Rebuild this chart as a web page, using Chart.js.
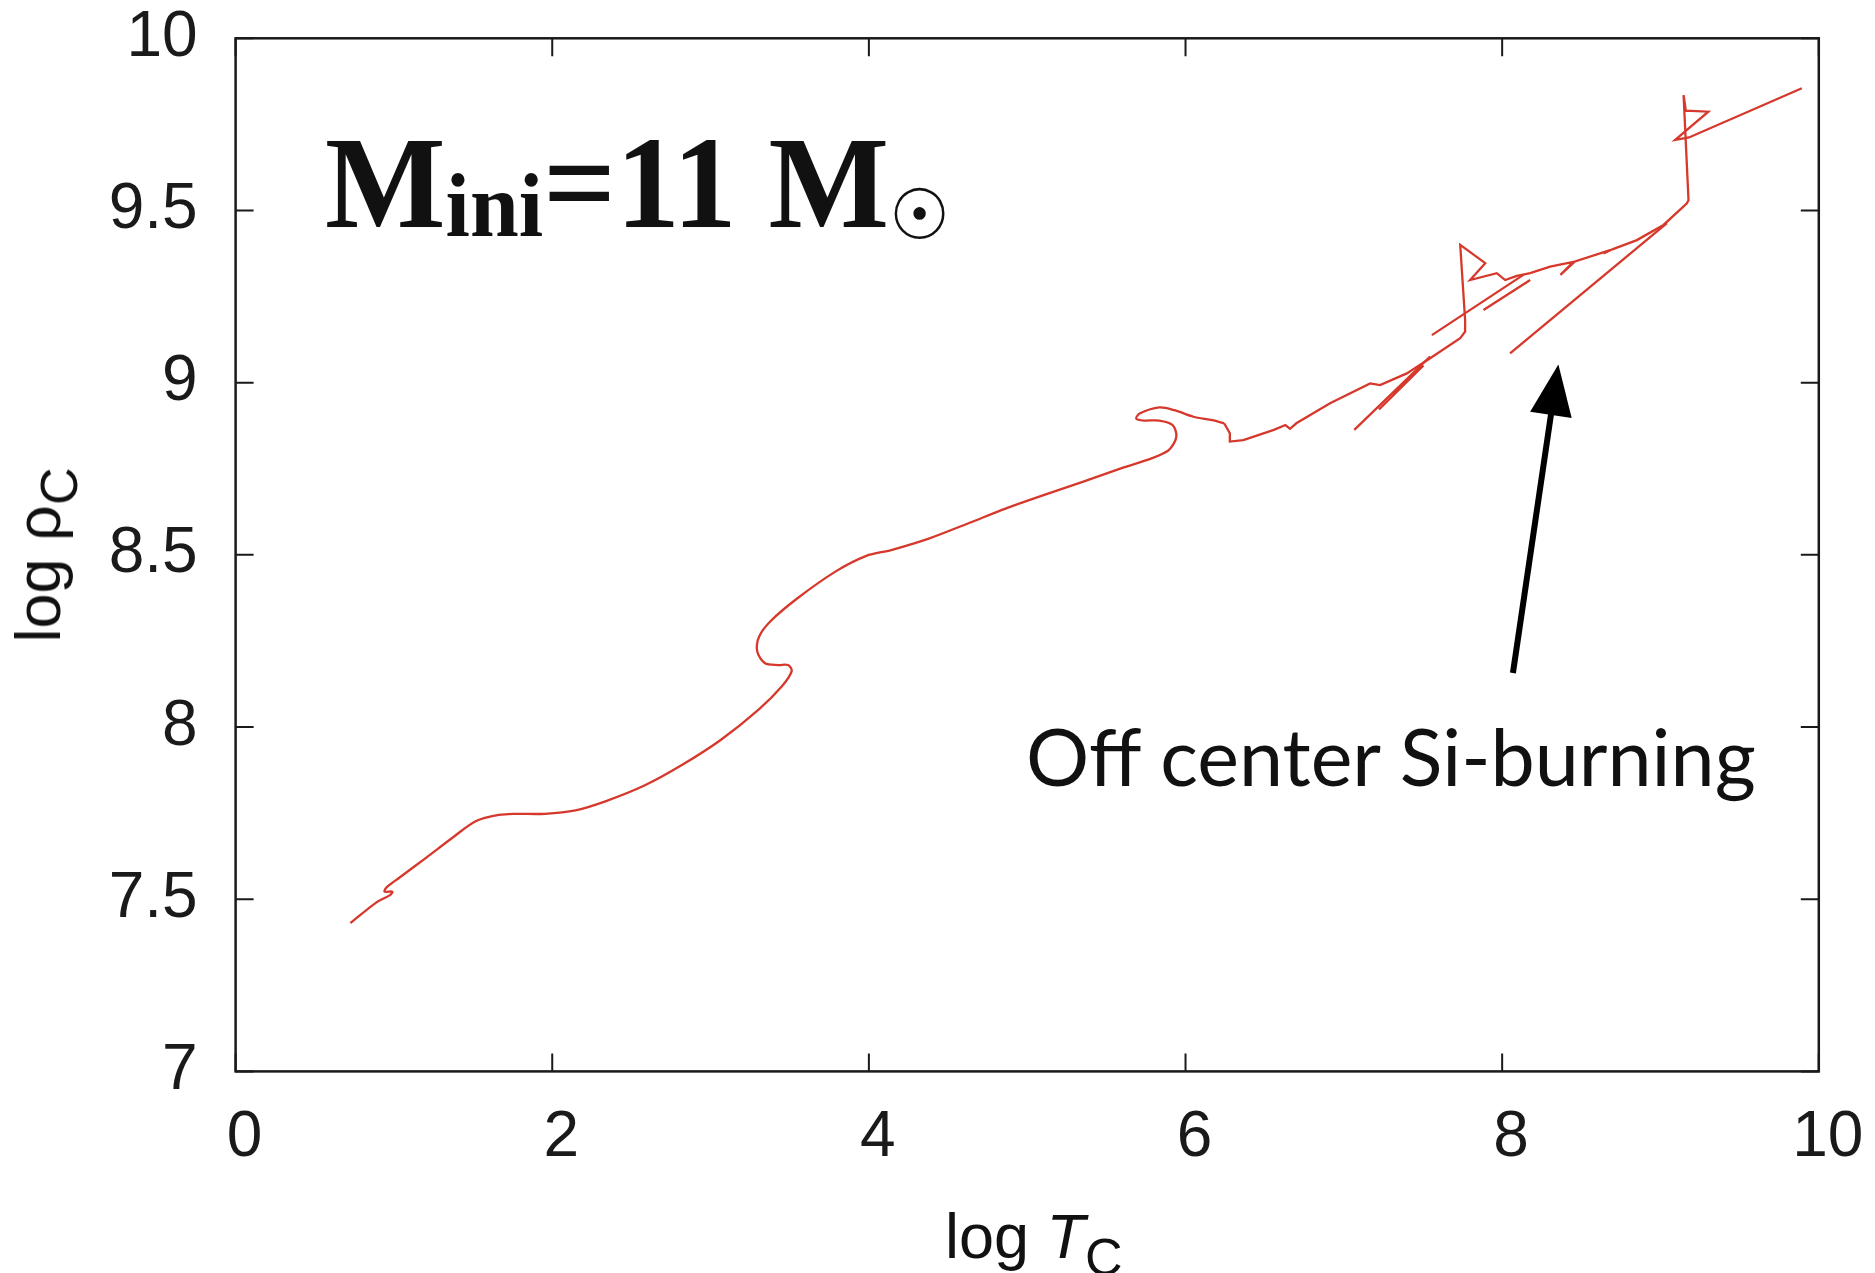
<!DOCTYPE html>
<html>
<head>
<meta charset="utf-8">
<script src="https://cdn.jsdelivr.net/npm/chart.js@4.4.0/dist/chart.umd.min.js"></script>
<style>
  body { margin: 0; background: #fff; }
  #wrap { position: relative; width: 1875px; height: 1273px; overflow: hidden; }
  #plot { position: absolute; left: 0; top: 0; }
  .txt { position: absolute; white-space: nowrap; color: #111; line-height: 1; }
  #title { left: 325px; top: 107px; font: bold 131px "Liberation Serif", serif; transform: scaleX(0.975); transform-origin: left center; }
  #title .sub { font-size: 90px; vertical-align: -9px; line-height: 0; }
  #title .sun { font-family: "DejaVu Sans"; font-weight: bold; font-size: 70px; vertical-align: -12px; line-height: 0; }
  #note { left: 1026px; top: 708px; font: 79px Lato, sans-serif; }
  #xlab { left: 945px; top: 1200px; font: 63px "Liberation Sans", sans-serif; }
  #ylab { left: 38px; top: 555px; font: 63px "Liberation Sans", sans-serif; transform: translate(-50%, -50%) rotate(-90deg); }
  .ax sub { font-size: 52px; vertical-align: -17px; line-height: 0; }
</style>
</head>
<body>
<div id="wrap">
  <canvas id="plot" width="1875" height="1273"></canvas>
  <div id="title" class="txt">M<span class="sub">ini</span>=11 M<span class="sun">☉</span></div>
  <div id="note" class="txt">Off center Si-burning</div>
  <div id="xlab" class="txt ax">log <i>T</i><sub>C</sub></div>
  <div id="ylab" class="txt ax">log ρ<sub>C</sub></div>
</div>
<script>
// track of the centre: x = log T_C, y = log rho_C
var smoothT = [0.725, 0.890, 0.975, 0.990, 0.940, 0.955, 1.036, 1.205, 1.374, 1.519, 1.664, 1.760, 1.954, 2.147, 2.340, 2.582, 2.824, 3.066, 3.307, 3.452, 3.513, 3.489, 3.428, 3.344, 3.295, 3.307, 3.380, 3.549, 3.791, 3.984, 4.141, 4.383, 4.625, 4.867, 5.108, 5.350, 5.592, 5.785, 5.894, 5.942, 5.918, 5.834, 5.737, 5.688, 5.713, 5.834, 5.930, 6.050, 6.171, 6.244];
var smoothRho = [7.431, 7.491, 7.512, 7.522, 7.522, 7.535, 7.563, 7.621, 7.680, 7.727, 7.745, 7.748, 7.748, 7.758, 7.785, 7.830, 7.891, 7.963, 8.052, 8.119, 8.163, 8.180, 8.180, 8.185, 8.219, 8.263, 8.308, 8.374, 8.452, 8.497, 8.514, 8.548, 8.591, 8.635, 8.674, 8.712, 8.751, 8.780, 8.804, 8.843, 8.877, 8.890, 8.890, 8.896, 8.911, 8.928, 8.920, 8.901, 8.891, 8.882];

var lateT = [6.244, 6.280, 6.280, 6.365, 6.558, 6.631, 6.660, 6.700, 6.913, 7.166, 7.229, 7.398, 7.545, 7.735, 7.766, 7.766, 7.735, 7.893, 7.798, 7.966, 8.019, 8.093, 8.177, 8.303, 8.450, 8.368, 8.460, 8.682, 8.640, 8.700, 8.851, 9.019, 9.167, 9.177, 9.146, 9.160, 9.302, 9.093, 9.180, 9.893];
var lateRho = [8.882, 8.853, 8.829, 8.833, 8.863, 8.877, 8.866, 8.882, 8.940, 8.998, 8.993, 9.027, 9.071, 9.129, 9.148, 9.182, 9.400, 9.347, 9.298, 9.318, 9.298, 9.310, 9.318, 9.337, 9.351, 9.313, 9.352, 9.385, 9.375, 9.388, 9.414, 9.458, 9.521, 9.530, 9.835, 9.790, 9.787, 9.705, 9.712, 9.855];

// loose straight pieces (null = break)
var fragT = [7.066, 7.545, null, 7.222, 7.503, null, 7.556, 8.134, null, 7.882, 8.177, null, 8.050, 9.041];
var fragRho = [8.863, 9.076, null, 8.922, 9.050, null, 9.138, 9.313, null, 9.211, 9.298, null, 9.085, 9.463];

var xTicks = [0, 2, 4, 6, 8, 10];
var yTicks = [7, 7.5, 8, 8.5, 9, 9.5, 10];

// arrow pointing at the Si-burning branch (data units)
var arrowTail = [8.068, 8.157];
var arrowTip = [8.355, 9.053];

function pts(xs, ys) {
    var out = [];
    for (var i = 0; i < xs.length; i++) out.push({ x: xs[i], y: ys[i] });
    return out;
}

var red = 'rgb(214,56,44)';

var frame = {
    id: 'frame',
    afterDatasetsDraw: function (chart) {
        var c = chart.ctx, a = chart.chartArea;
        var xs = chart.scales.x, ys = chart.scales.y;
        c.save();
        c.strokeStyle = '#1a1a1a';
        c.lineWidth = 2;
        c.beginPath();
        xTicks.forEach(function (v) {
            var p = xs.getPixelForValue(v);
            c.moveTo(p, a.bottom); c.lineTo(p, a.bottom - 18);
            c.moveTo(p, a.top); c.lineTo(p, a.top + 18);
        });
        yTicks.forEach(function (v) {
            var p = ys.getPixelForValue(v);
            c.moveTo(a.left, p); c.lineTo(a.left + 18, p);
            c.moveTo(a.right, p); c.lineTo(a.right - 18, p);
        });
        c.stroke();
        c.lineWidth = 2.5;
        c.strokeRect(a.left, a.top, a.right - a.left, a.bottom - a.top);

        // arrow
        var x0 = xs.getPixelForValue(arrowTail[0]), y0 = ys.getPixelForValue(arrowTail[1]);
        var x1 = xs.getPixelForValue(arrowTip[0]), y1 = ys.getPixelForValue(arrowTip[1]);
        var ang = Math.atan2(y1 - y0, x1 - x0);
        var hl = 51, hw = 21;
        var bx = x1 - hl * Math.cos(ang), by = y1 - hl * Math.sin(ang);
        c.strokeStyle = '#000';
        c.fillStyle = '#000';
        c.lineWidth = 6;
        c.beginPath();
        c.moveTo(x0, y0); c.lineTo(bx + 4 * Math.cos(ang), by + 4 * Math.sin(ang));
        c.stroke();
        c.beginPath();
        c.moveTo(x1, y1);
        c.lineTo(bx + hw * Math.sin(ang), by - hw * Math.cos(ang));
        c.lineTo(bx - hw * Math.sin(ang), by + hw * Math.cos(ang));
        c.closePath();
        c.fill();
        c.restore();
    }
};

var ctx = document.getElementById('plot').getContext('2d');
var chart = new Chart(ctx, {
    type: 'scatter',
    data: {
        datasets: [
            { data: pts(smoothT, smoothRho), showLine: true, tension: 0.3, borderColor: red, borderWidth: 2.3, pointRadius: 0 },
            { data: pts(lateT, lateRho), showLine: true, tension: 0, borderColor: red, borderWidth: 2.3, pointRadius: 0 },
            { data: pts(fragT, fragRho), showLine: true, tension: 0, spanGaps: false, borderColor: red, borderWidth: 2.3, pointRadius: 0 }
        ]
    },
    options: {
        responsive: false,
        animation: false,
        devicePixelRatio: 1,
        layout: { padding: { left: 0, top: 38.3, right: 56.2, bottom: 0 } },
        plugins: { legend: { display: false }, tooltip: { enabled: false } },
        scales: {
            x: {
                type: 'linear', min: 0, max: 10,
                afterBuildTicks: function (s) { s.ticks = xTicks.map(function (v) { return { value: v }; }); },
                afterFit: function (s) { s.height = 201.6; s.paddingLeft = 0; s.paddingRight = 0; },
                grid: { display: false, drawTicks: false },
                border: { display: false },
                ticks: { color: '#1a1a1a', padding: 29, labelOffset: 9, maxRotation: 0, font: { family: 'Liberation Sans', size: 64 }, callback: function (v) { return String(v); } }
            },
            y: {
                type: 'linear', min: 7, max: 10,
                afterBuildTicks: function (s) { s.ticks = yTicks.map(function (v) { return { value: v }; }); },
                afterFit: function (s) { s.width = 235.6; s.paddingTop = 0; s.paddingBottom = 0; },
                grid: { display: false, drawTicks: false },
                border: { display: false },
                ticks: { color: '#1a1a1a', padding: 38, font: { family: 'Liberation Sans', size: 64 }, callback: function (v) { return String(v); } }
            }
        }
    },
    plugins: [frame]
});
</script>
</body>
</html>
